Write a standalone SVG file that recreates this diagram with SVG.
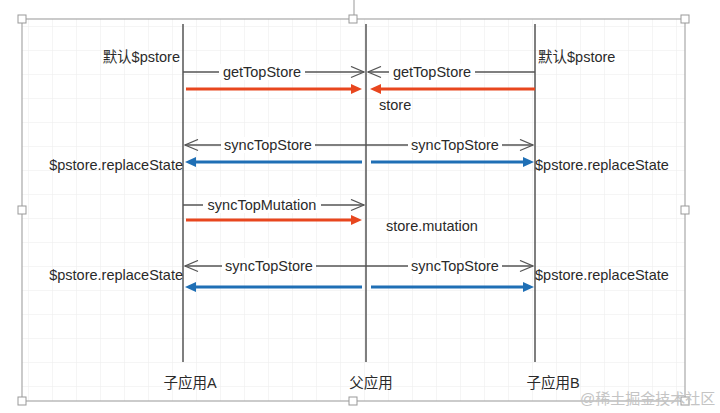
<svg xmlns="http://www.w3.org/2000/svg" width="720" height="413" viewBox="0 0 720 413">
<style>
text{font-family:"Liberation Sans","Noto Sans CJK SC",sans-serif;font-size:14.5px;fill:#2a2a2a}
.life{stroke:#555;stroke-width:1.5}
.msg{stroke:#555;stroke-width:1.3;fill:none}
.red{stroke:#e8461e;stroke-width:3.2;fill:none}
.blue{stroke:#1f6fb5;stroke-width:3.2;fill:none}
.lbg{fill:#fff}
.handle{fill:#fff;stroke:#999;stroke-width:1}
.grid{stroke:#ececec;stroke-width:1}
</style>
<defs>
<marker id="open" markerUnits="userSpaceOnUse" viewBox="0 0 15 13" refX="14" refY="6.5" markerWidth="15" markerHeight="13" orient="auto">
<path d="M1,1 L14,6.5 L1,12" fill="none" stroke="#555" stroke-width="1.3"/>
</marker>
<marker id="redHead" markerUnits="userSpaceOnUse" viewBox="0 0 11 10" refX="2" refY="5" markerWidth="11" markerHeight="10" orient="auto">
<path d="M0,0 L11,5 L0,10 Z" fill="#e8461e"/>
</marker>
<marker id="blueHead" markerUnits="userSpaceOnUse" viewBox="0 0 11 10" refX="2" refY="5" markerWidth="11" markerHeight="10" orient="auto">
<path d="M0,0 L11,5 L0,10 Z" fill="#1f6fb5"/>
</marker>
<pattern id="gridp" patternUnits="userSpaceOnUse" x="4" y="2" width="24" height="24">
<path d="M24,0 L0,0 L0,24" class="grid" fill="none"/>
</pattern>
</defs>
<rect width="720" height="413" fill="#fff"/>
<g id="frame">
<rect x="22" y="19" width="663" height="382" fill="url(#gridp)" stroke="#a8a8a8" stroke-width="1.2"/>
<line x1="354" y1="0" x2="354" y2="15" stroke="#999" stroke-width="1"/>
<rect class="handle" x="18" y="15" width="8" height="8"/>
<rect class="handle" x="349" y="15" width="8" height="8"/>
<rect class="handle" x="681" y="15" width="8" height="8"/>
<rect class="handle" x="18" y="206" width="8" height="8"/>
<rect class="handle" x="681" y="206" width="8" height="8"/>
<rect class="handle" x="18" y="397" width="8" height="8"/>
<rect class="handle" x="349" y="397" width="8" height="8"/>
<rect class="handle" x="681" y="397" width="8" height="8"/>
</g>
<g id="nodeA">
<line class="life" x1="183" y1="24" x2="183" y2="362"/>
<text x="190" y="388" text-anchor="middle">子应用A</text>
</g>
<g id="nodeParent">
<line class="life" x1="366" y1="24" x2="366" y2="362"/>
<text x="371" y="388" text-anchor="middle">父应用</text>
</g>
<g id="nodeB">
<line class="life" x1="535" y1="24" x2="535" y2="362"/>
<text x="553" y="388" text-anchor="middle">子应用B</text>
</g>
<g id="connectors">
<line class="msg" x1="183" y1="72" x2="364" y2="72" marker-end="url(#open)"/>
<line class="msg" x1="535" y1="72" x2="368" y2="72" marker-end="url(#open)"/>
<line class="red" x1="186" y1="89" x2="353" y2="89" marker-end="url(#redHead)"/>
<line class="red" x1="535" y1="89" x2="379" y2="89" marker-end="url(#redHead)"/>
<line class="msg" x1="366" y1="145" x2="185" y2="145" marker-end="url(#open)"/>
<line class="msg" x1="366" y1="145" x2="533" y2="145" marker-end="url(#open)"/>
<line class="blue" x1="362" y1="162" x2="194" y2="162" marker-end="url(#blueHead)"/>
<line class="blue" x1="371" y1="162" x2="525" y2="162" marker-end="url(#blueHead)"/>
<line class="msg" x1="183" y1="205" x2="364" y2="205" marker-end="url(#open)"/>
<line class="red" x1="186" y1="220" x2="353" y2="220" marker-end="url(#redHead)"/>
<line class="msg" x1="366" y1="266" x2="185" y2="266" marker-end="url(#open)"/>
<line class="msg" x1="366" y1="266" x2="533" y2="266" marker-end="url(#open)"/>
<line class="blue" x1="362" y1="287" x2="194" y2="287" marker-end="url(#blueHead)"/>
<line class="blue" x1="371" y1="287" x2="525" y2="287" marker-end="url(#blueHead)"/>
<rect class="lbg" x="219" y="64" width="86" height="16"/>
<text x="262" y="77" text-anchor="middle">getTopStore</text>
<rect class="lbg" x="389" y="64" width="86" height="16"/>
<text x="432" y="77" text-anchor="middle">getTopStore</text>
<rect class="lbg" x="221" y="137" width="94" height="16"/>
<text x="268" y="150" text-anchor="middle">syncTopStore</text>
<rect class="lbg" x="408" y="137" width="94" height="16"/>
<text x="455" y="150" text-anchor="middle">syncTopStore</text>
<rect class="lbg" x="203" y="197" width="118" height="16"/>
<text x="262" y="210" text-anchor="middle">syncTopMutation</text>
<rect class="lbg" x="222" y="258" width="94" height="16"/>
<text x="269" y="271" text-anchor="middle">syncTopStore</text>
<rect class="lbg" x="408" y="258" width="94" height="16"/>
<text x="455" y="271" text-anchor="middle">syncTopStore</text>
</g>
<g id="annotations">
<text x="180" y="62" text-anchor="end">默认$pstore</text>
<text x="538" y="62">默认$pstore</text>
<text x="379" y="110">store</text>
<text x="183" y="170" text-anchor="end">$pstore.replaceState</text>
<text x="535" y="170">$pstore.replaceState</text>
<text x="386" y="231">store.mutation</text>
<text x="183" y="280" text-anchor="end">$pstore.replaceState</text>
<text x="535" y="280">$pstore.replaceState</text>
<text x="580" y="404" style="font-size:15px;fill:#c4c4c4">@稀土掘金技术社区</text>
</g>
</svg>
